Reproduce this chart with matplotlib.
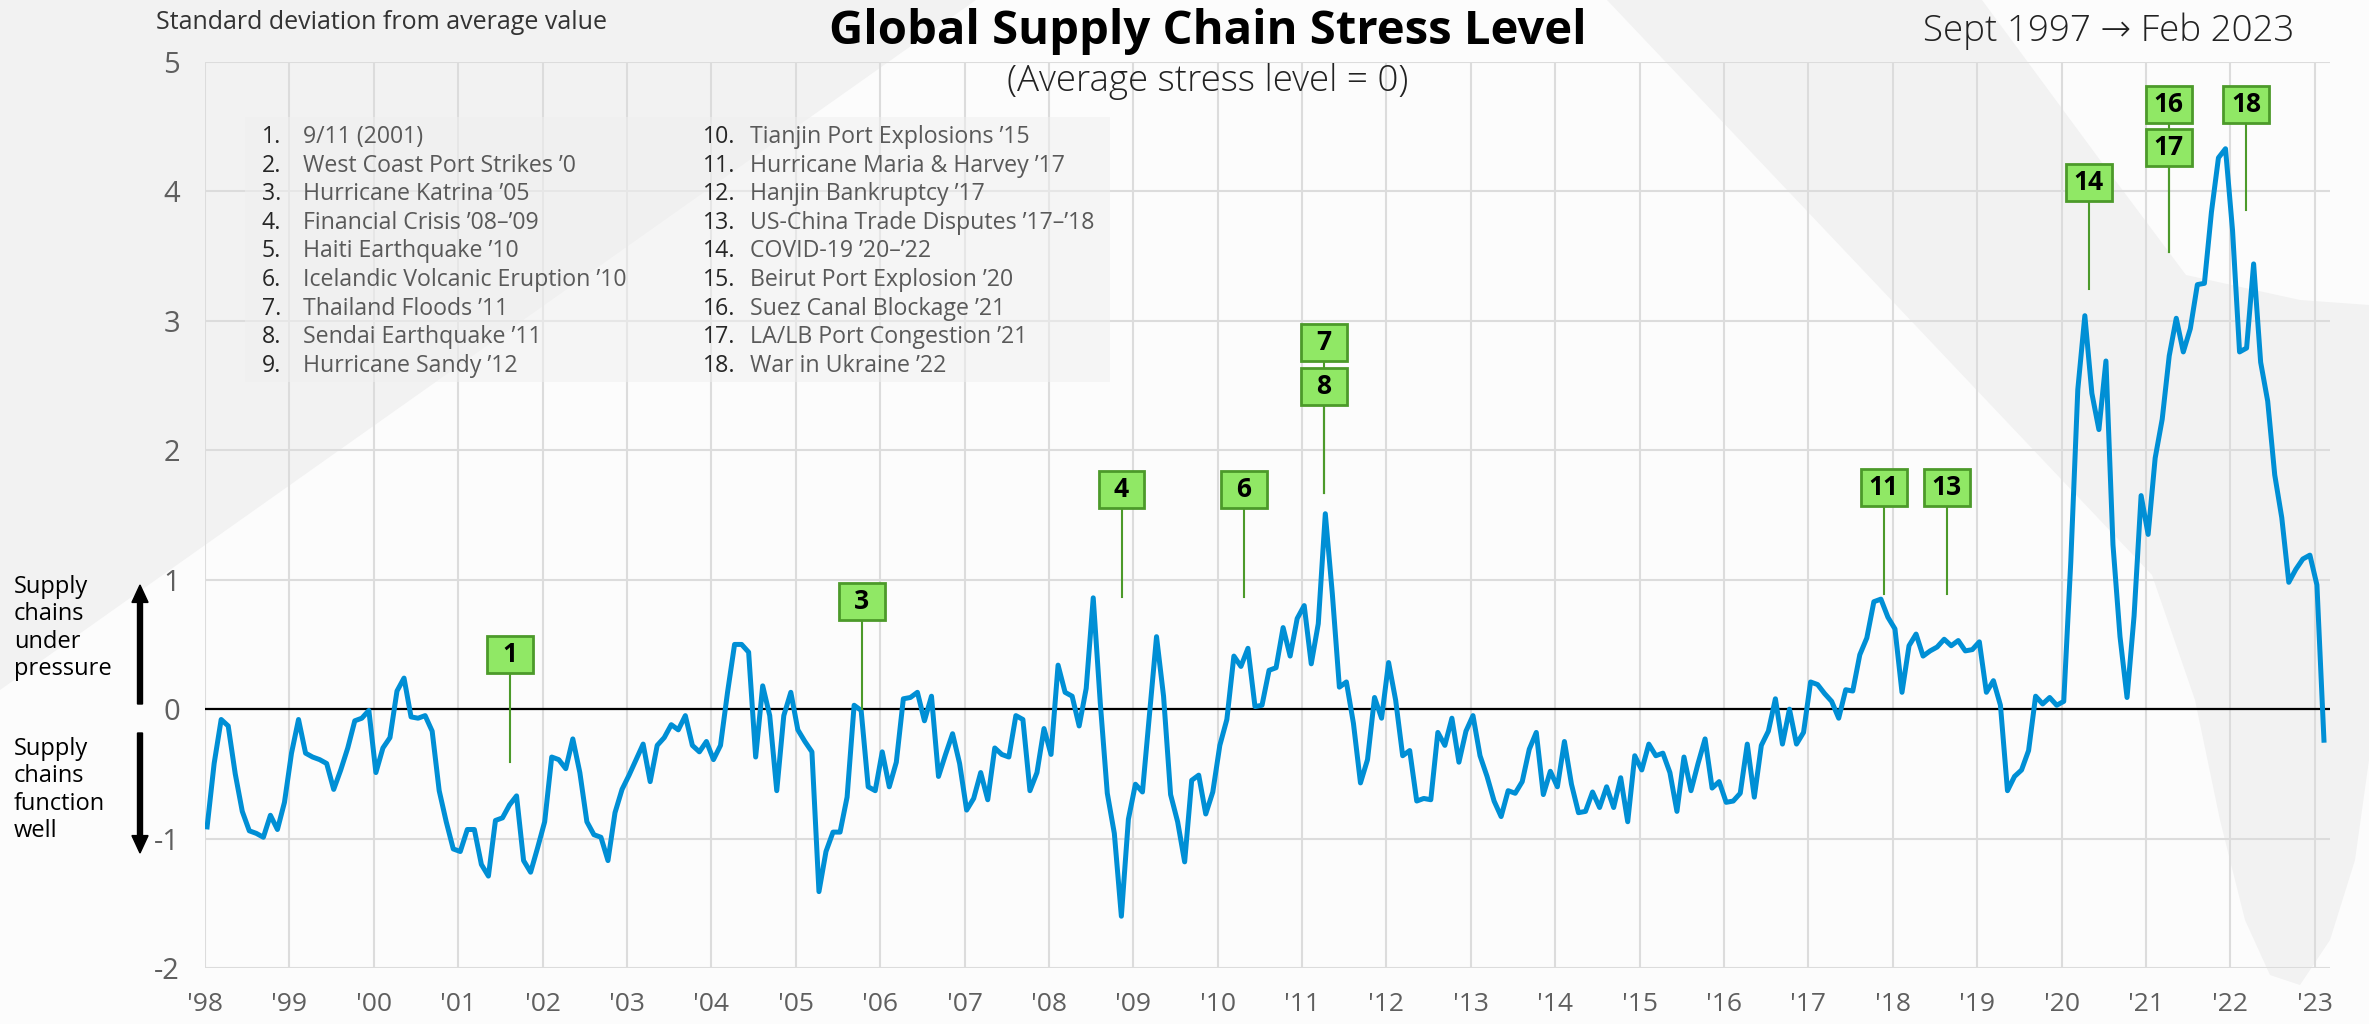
import matplotlib
matplotlib.use('Agg')
import matplotlib.pyplot as plt
import matplotlib.patches as patches
import numpy as np

plt.rcParams['font.family'] = ['Open Sans', 'DejaVu Sans']
plt.rcParams['axes.unicode_minus'] = False

W, H = 2369, 1024

# monthly stress level, Jan 1998 .. Feb 2023 (std dev from average)
stress = [
    -0.91, -0.42, -0.08, -0.13, -0.50, -0.79, -0.94, -0.96, -0.99, -0.82, -0.93, -0.72,  # 1998
    -0.34, -0.08, -0.34, -0.37, -0.39, -0.42, -0.62, -0.47, -0.30, -0.09, -0.07, -0.01,  # 1999
    -0.49, -0.30, -0.22, 0.14, 0.24, -0.06, -0.07, -0.05, -0.17, -0.63, -0.87, -1.08,    # 2000
    -1.10, -0.93, -0.93, -1.20, -1.29, -0.86, -0.84, -0.74, -0.67, -1.17, -1.26, -1.07,  # 2001
    -0.87, -0.37, -0.39, -0.46, -0.23, -0.49, -0.87, -0.97, -0.99, -1.17, -0.80, -0.62,  # 2002
    -0.51, -0.39, -0.27, -0.56, -0.28, -0.22, -0.12, -0.16, -0.05, -0.28, -0.33, -0.25,  # 2003
    -0.39, -0.28, 0.13, 0.50, 0.50, 0.44, -0.37, 0.18, -0.05, -0.63, -0.05, 0.13,       # 2004
    -0.16, -0.25, -0.33, -1.41, -1.10, -0.95, -0.95, -0.68, 0.03, -0.01, -0.60, -0.63,  # 2005
    -0.33, -0.60, -0.41, 0.08, 0.09, 0.13, -0.09, 0.10, -0.52, -0.35, -0.19, -0.42,     # 2006
    -0.78, -0.69, -0.49, -0.70, -0.30, -0.35, -0.37, -0.05, -0.08, -0.63, -0.49, -0.15, # 2007
    -0.35, 0.34, 0.13, 0.10, -0.13, 0.16, 0.86, 0.05, -0.65, -0.96, -1.60, -0.85,       # 2008
    -0.58, -0.64, -0.04, 0.56, 0.10, -0.66, -0.87, -1.18, -0.55, -0.51, -0.81, -0.64,   # 2009
    -0.28, -0.08, 0.41, 0.33, 0.47, 0.02, 0.03, 0.30, 0.32, 0.63, 0.41, 0.70,           # 2010
    0.80, 0.35, 0.66, 1.51, 0.89, 0.17, 0.21, -0.11, -0.57, -0.39, 0.09, -0.07,         # 2011
    0.36, 0.07, -0.36, -0.32, -0.71, -0.69, -0.70, -0.18, -0.28, -0.07, -0.41, -0.17,   # 2012
    -0.05, -0.36, -0.52, -0.71, -0.83, -0.63, -0.65, -0.56, -0.31, -0.18, -0.66, -0.48, # 2013
    -0.60, -0.25, -0.58, -0.80, -0.79, -0.64, -0.76, -0.60, -0.76, -0.53, -0.87, -0.36, # 2014
    -0.47, -0.27, -0.36, -0.34, -0.49, -0.79, -0.37, -0.63, -0.42, -0.23, -0.61, -0.56, # 2015
    -0.72, -0.71, -0.65, -0.27, -0.68, -0.28, -0.17, 0.08, -0.27, 0.00, -0.27, -0.18,   # 2016
    0.21, 0.19, 0.12, 0.06, -0.07, 0.15, 0.14, 0.42, 0.55, 0.83, 0.85, 0.71,            # 2017
    0.62, 0.13, 0.49, 0.58, 0.41, 0.45, 0.48, 0.54, 0.49, 0.53, 0.45, 0.46,             # 2018
    0.52, 0.13, 0.22, 0.03, -0.63, -0.52, -0.47, -0.32, 0.10, 0.04, 0.09, 0.03,         # 2019
    0.06, 1.14, 2.47, 3.04, 2.44, 2.16, 2.69, 1.27, 0.56, 0.09, 0.72, 1.65,             # 2020
    1.35, 1.94, 2.24, 2.73, 3.02, 2.76, 2.94, 3.28, 3.29, 3.84, 4.26, 4.33,             # 2021
    3.70, 2.76, 2.79, 3.44, 2.68, 2.38, 1.81, 1.48, 0.98, 1.08, 1.16, 1.19,             # 2022
    0.96, -0.24,                                                                        # 2023
]

years = list(range(1998, 2024))
year_labels = ["'" + str(y)[-2:] for y in years]
y_ticks = [-2, -1, 0, 1, 2, 3, 4, 5]

# numbered event markers: box position (year, level) and where the stem ends
event_ids = ['1', '3', '4', '6', '7', '8', '11', '13', '14', '16', '17', '18']
event_x = [2001.61, 2005.78, 2008.86, 2010.31, 2011.26, 2011.26,
           2017.89, 2018.64, 2020.32, 2021.27, 2021.27, 2022.19]
event_box_y = [0.42, 0.83, 1.70, 1.70, 2.83, 2.49, 1.71, 1.71, 4.07, 4.67, 4.34, 4.67]
event_tip_y = [-0.41, 0.0, 0.87, 0.87, 1.67, 1.67, 0.89, 0.89, 3.25, 3.53, 3.53, 3.86]

events_col1 = ['9/11 (2001)', 'West Coast Port Strikes \u20190', 'Hurricane Katrina \u201905',
               'Financial Crisis \u201908\u2013\u201909', 'Haiti Earthquake \u201910',
               'Icelandic Volcanic Eruption \u201910', 'Thailand Floods \u201911',
               'Sendai Earthquake \u201911', 'Hurricane Sandy \u201912']
events_col2 = ['Tianjin Port Explosions \u201915', 'Hurricane Maria & Harvey \u201917',
               'Hanjin Bankruptcy \u201917', 'US-China Trade Disputes \u201917\u2013\u201918',
               'COVID-19 \u201920\u2013\u201922', 'Beirut Port Explosion \u201920',
               'Suez Canal Blockage \u201921', 'LA/LB Port Congestion \u201921',
               'War in Ukraine \u201922']


def fx(px):
    return px / W


def fy(py):
    return 1 - py / H


def bg_shape(points, color):
    fig.patches.append(patches.Polygon([(fx(a), fy(b)) for a, b in points], closed=True,
                                       transform=fig.transFigure, facecolor=color,
                                       edgecolor='none', zorder=-10))


fig = plt.figure(figsize=(W / 100, H / 100), dpi=100)
fig.patch.set_facecolor('#fcfcfc')

# faint decorative background shapes
bg_shape([(0, 0), (976, 0), (0, 690)], '#f2f2f2')
bg_shape([(1607, 0), (1982, 0), (2100, 160), (2186, 275), (2300, 300), (2369, 305),
          (2369, 760), (2355, 860), (2330, 940), (2300, 985), (2270, 975), (2245, 920),
          (2220, 820), (2195, 700), (2152, 575)],
         '#f2f2f2')

ax = fig.add_axes([fx(205), fy(968), fx(2330) - fx(205), fy(62) - fy(968)])
ax.set_facecolor('none')

x = [1998 + (i + 0.3) / 12 for i in range(len(stress))]
ax.plot(x, stress, color='#008fd5', lw=3.6, zorder=3, solid_joinstyle='round')
ax.axhline(0, color='black', lw=1.6, zorder=2)

ax.set_xlim(1998, 2023.18)
ax.set_ylim(-2, 5)
ax.set_xticks(years)
ax.set_xticklabels(year_labels)
ax.set_yticks(y_ticks)
ax.grid(True, color='#dcdcdc', lw=1.5)
ax.set_axisbelow(True)
for s in ax.spines.values():
    s.set_visible(False)
ax.tick_params(axis='both', length=0, colors='#5f5f5f')
ax.tick_params(axis='y', labelsize=21, pad=18)
ax.tick_params(axis='x', labelsize=19, pad=17)

# event boxes
bw, bh = 0.545, 0.285
for eid, ex, by, ty in zip(event_ids, event_x, event_box_y, event_tip_y):
    ax.plot([ex, ex], [by, ty], color='#4c9a2a', lw=1.5, zorder=4)
    ax.add_patch(patches.Rectangle((ex - bw / 2, by - bh / 2), bw, bh, facecolor='#90e865',
                                   edgecolor='#4c9a2a', lw=2, zorder=5))
    ax.text(ex, by, eid, ha='center', va='center', fontsize=19, fontweight='bold',
            color='black', zorder=6)

# event list
fig.patches.append(patches.Rectangle((fx(245), fy(382)), fx(1110) - fx(245), fy(117) - fy(382),
                                     transform=fig.transFigure, facecolor='#f0f0f0',
                                     edgecolor='none', alpha=0.5, zorder=1))
for k, (a, b) in enumerate(zip(events_col1, events_col2)):
    py = 137 + k * 28.6
    fig.text(fx(262), fy(py), f'{k + 1}.', fontsize=16.7, color='#262626', va='center')
    fig.text(fx(303), fy(py), a, fontsize=16.7, color='#595959', va='center')
    fig.text(fx(703), fy(py), f'{k + 10}.', fontsize=16.7, color='#262626', va='center')
    fig.text(fx(750), fy(py), b, fontsize=16.7, color='#595959', va='center')

# titles
fig.text(fx(1208), fy(44), 'Global Supply Chain Stress Level', ha='center', va='baseline',
         fontsize=34, fontweight='bold', color='black')
fig.text(fx(1208), fy(91), '(Average stress level = 0)', ha='center', va='baseline',
         fontsize=26.5, fontweight='light', color='#222222')
fig.text(fx(2294), fy(41), 'Sept 1997 \u2192 Feb 2023', ha='right', va='baseline',
         fontsize=26.5, fontweight='light', color='#222222')
fig.text(fx(156), fy(29), 'Standard deviation from average value', ha='left', va='baseline',
         fontsize=18, color='#333333')

# left side explanation
fig.text(fx(14), fy(628), 'Supply\nchains\nunder\npressure', ha='left', va='center',
         fontsize=17, color='black', linespacing=1.2)
fig.text(fx(14), fy(790), 'Supply\nchains\nfunction\nwell', ha='left', va='center',
         fontsize=17, color='black', linespacing=1.2)
for y0, y1 in [(704, 585), (733, 853)]:
    fig.patches.append(patches.FancyArrow(fx(140), fy(y0), 0, fy(y1) - fy(y0), width=0.0021,
                                          head_width=0.0068, head_length=0.017,
                                          length_includes_head=True, transform=fig.transFigure,
                                          color='black'))

fig.savefig('out.png', dpi=100)
